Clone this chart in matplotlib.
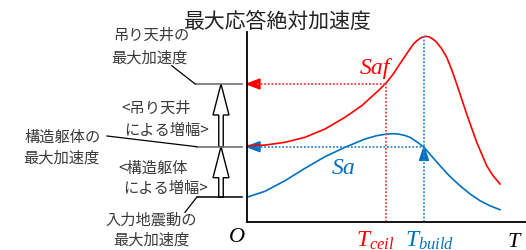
import matplotlib
matplotlib.use("Agg")
import matplotlib.pyplot as plt
from matplotlib.patches import FancyArrow

plt.rcParams['font.family'] = ['Noto Sans CJK JP', 'DejaVu Sans']
plt.rcParams['mathtext.fontset'] = 'custom'
plt.rcParams['mathtext.it'] = 'Liberation Serif:italic'
plt.rcParams['mathtext.rm'] = 'Liberation Serif'

# period axis / acceleration axis (arbitrary units)
saf_x = [0, 18.3, 38.3, 58.3, 78.3, 98.3, 115, 131.6, 140, 146.6, 153.3, 160,
         166.6, 170, 174, 178.3, 182, 186, 190, 195, 200, 205, 210, 220, 230,
         240, 246, 253.3]
saf_y = [76, 76.6, 79.4, 84.4, 92.7, 104.4, 116, 131, 139.4, 147.7, 158, 168,
         177.5, 180.8, 183.8, 185.4, 185, 182.8, 179.4, 173, 164.4, 152, 137.7,
         107.7, 79.4, 56, 46.5, 37.7]
sa_x = [0, 18.3, 38.3, 58.3, 78.3, 98.3, 118.3, 130, 140, 146.6, 152, 158,
        163.3, 170, 177.3, 185, 193.3, 203, 213.3, 223, 233.3, 243, 253.3]
sa_y = [24.4, 30.4, 41, 53.4, 65, 74.4, 82.7, 86, 87.7, 88, 87.6, 86.3,
        84.4, 80, 74.4, 65.5, 56, 45.5, 36, 28, 21, 16, 12]

ground_level = 24.4   # 入力地震動の最大加速度
sa_level = 75.0       # 構造躯体の最大加速度
saf_level = 137.7     # 吊り天井の最大加速度
t_ceil = 139.3
t_build = 177.3
saf_peak = 185.4

red = '#ff0000'
blue = '#0070c0'
txt = '#3a3a3a'

fig = plt.figure(figsize=(5.26, 2.51), dpi=100)
ax = fig.add_axes([246.7 / 526, 28.3 / 251, 279.3 / 526, 189.7 / 251])
ax.set_xlim(0, 279.3)
ax.set_ylim(0, 189.7)
for s in ['top', 'right']:
    ax.spines[s].set_visible(False)
for s in ['left', 'bottom']:
    ax.spines[s].set_linewidth(1.3)
    ax.spines[s].set_color('black')
ax.set_xticks([])
ax.set_yticks([])

# curves
ax.plot(saf_x, saf_y, color=red, lw=1.2)
ax.plot(sa_x, sa_y, color=blue, lw=1.2)

# dotted guides
dot = (0, (1, 1))
ax.plot([t_ceil, t_ceil], [0, saf_level], color='#ff3b3b', lw=1.3, ls=dot)
ax.plot([10, t_ceil], [saf_level, saf_level], color='#ff3b3b', lw=1.3, ls=dot)
ax.plot([t_build, t_build], [0, saf_peak], color='#2f86d0', lw=1.3, ls=dot)
ax.plot([10, t_build], [sa_level, sa_level], color='#2f86d0', lw=1.3, ls=dot)

# filled arrowheads
ax.add_patch(FancyArrow(13.3, saf_level, -13.3, 0, width=0, head_width=10,
                        head_length=13.3, length_includes_head=True,
                        color=red, clip_on=False))
ax.add_patch(FancyArrow(13.3, sa_level, -13.3, 0, width=0, head_width=10,
                        head_length=13.3, length_includes_head=True,
                        color=blue, clip_on=False))
ax.add_patch(FancyArrow(t_build, sa_level - 13.7, 0, 13.7, width=0, head_width=9,
                        head_length=13.7, length_includes_head=True,
                        color=blue, clip_on=False))

# left side level lines and leaders
ax.plot([-51, -4.5], [saf_level, saf_level], color='#707070', lw=1.2, clip_on=False)
ax.plot([-50, -4.5], [sa_level, sa_level], color='#707070', lw=1.2, clip_on=False)
ax.plot([-50, -4.5], [ground_level, ground_level], color='black', lw=1.1, clip_on=False)
ax.plot([-75, -51.5], [156, saf_level], color='black', lw=0.9, clip_on=False)
ax.plot([-139.7, -50], [85.7, sa_level], color='black', lw=0.9, clip_on=False)
ax.plot([-61.7, -50], [9.4, ground_level], color='black', lw=0.9, clip_on=False)

# hollow amplification arrows
for lo, hi in [(ground_level, sa_level), (sa_level, saf_level)]:
    ax.add_patch(FancyArrow(-25.7, lo, 0, hi - lo, width=4.5, head_width=16,
                            head_length=31, length_includes_head=True,
                            fc='white', ec='black', lw=1.0, clip_on=False))

# left labels
labels = [
    ('吊り天井の', -95.7, 187.7),
    ('最大加速度', -97.7, 164.7),
    ('<吊り天井', -90.7, 114.7),
    ('による増幅>', -80, 92.7),
    ('構造躯体の', -183.7, 85.7),
    ('最大加速度', -185.2, 64.7),
    ('<構造躯体', -93.4, 54.7),
    ('による増幅>', -81.7, 34.7),
    ('入力地震動の', -95.9, 2.7),
    ('最大加速度', -95.7, -17.3),
]
for s, x, y in labels:
    ax.text(x, y, s, ha='center', va='center', fontsize=11, color=txt, clip_on=False)

fig.text(277.5 / 526, (251 - 22) / 251, '最大応答絶対加速度', ha='center', va='center',
         fontsize=15, color='#222222')

serif = dict(family='Liberation Serif', style='italic')
ax.text(128.3, 154.7, 'Saf', ha='center', va='center', fontsize=17, color=red, **serif)
ax.text(96.6, 54.7, 'Sa', ha='center', va='center', fontsize=17, color=blue, **serif)
ax.text(-10, -19.3, 'O', ha='center', va='baseline', fontsize=16, color='black', **serif)
ax.text(267.3, -24.3, 'T', ha='center', va='baseline', fontsize=16, color='black', **serif)
ax.text(128.3, -24.3, r'$T_{ceil}$', ha='center', va='baseline', fontsize=17, color=red)
ax.text(183.3, -24.3, r'$T_{build}$', ha='center', va='baseline', fontsize=17, color=blue)

fig.savefig('out.png', dpi=100)
